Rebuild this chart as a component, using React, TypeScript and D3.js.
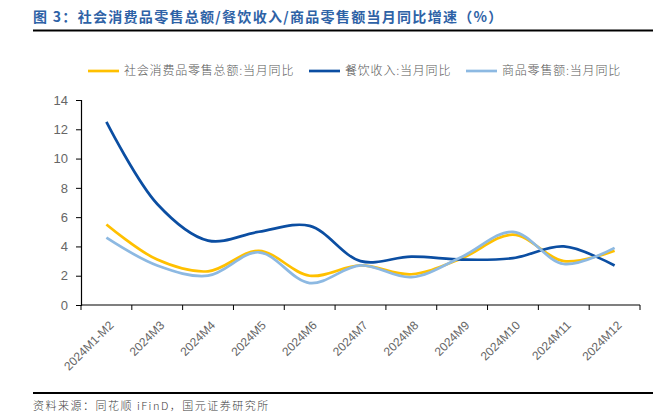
import React, { useRef, useEffect } from "react";
import * as d3 from "d3";

const categories = [
  "2024M1-M2", "2024M3", "2024M4", "2024M5", "2024M6", "2024M7",
  "2024M8", "2024M9", "2024M10", "2024M11", "2024M12",
];
const retailTotal = [5.5, 3.1, 2.3, 3.7, 2.0, 2.7, 2.1, 3.2, 4.8, 3.0, 3.7];
const catering = [12.5, 6.9, 4.4, 5.0, 5.4, 3.0, 3.3, 3.1, 3.2, 4.0, 2.7];
const goods = [4.6, 2.7, 2.0, 3.6, 1.5, 2.7, 1.9, 3.3, 5.0, 2.8, 3.9];
const yTicks = [0, 2, 4, 6, 8, 10, 12, 14];

const seriesList = [
  { name: "社会消费品零售总额:当月同比", values: retailTotal, color: "#FFC000" },
  { name: "餐饮收入:当月同比", values: catering, color: "#0B4EA2" },
  { name: "商品零售额:当月同比", values: goods, color: "#8DB9E2" },
];

const FONT = "'Noto Sans CJK SC', 'Noto Sans', sans-serif";
const NUM_FONT = "'Liberation Sans', Arial, sans-serif";

export default function App() {
  const svgRef = useRef<SVGSVGElement>(null);

  useEffect(() => {
    if (!svgRef.current) return;
    const svg = d3.select(svgRef.current);
    svg.selectAll("*").remove();

    const width = 669;
    const height = 416;
    const margin = { top: 100, right: 29, bottom: 111, left: 81 };
    const innerWidth = width - margin.left - margin.right;
    const innerHeight = height - margin.top - margin.bottom;

    svg.append("rect").attr("width", width).attr("height", height).attr("fill", "#fff");

    // title
    svg.append("text")
      .attr("x", 33)
      .attr("y", 22)
      .style("font-family", FONT)
      .style("font-size", "14px")
      .style("font-weight", "bold")
      .style("letter-spacing", "1.3px")
      .style("fill", "#2E62A6")
      .text("图 3：社会消费品零售总额/餐饮收入/商品零售额当月同比增速（%）");

    svg.append("line")
      .attr("x1", 33).attr("x2", 653)
      .attr("y1", 30.5).attr("y2", 30.5)
      .attr("stroke", "#000").attr("stroke-width", 1.8);

    const x = d3.scaleBand<string>().domain(categories).range([0, innerWidth]);
    const y = d3.scaleLinear().domain([0, 14]).range([innerHeight, 0]);

    const g = svg.append("g").attr("transform", `translate(${margin.left},${margin.top})`);

    // y axis
    const yAxis = g.append("g").call(
      d3.axisLeft(y).tickValues(yTicks).tickSize(5).tickPadding(8).tickFormat(d3.format("d"))
    );
    yAxis.select(".domain").attr("stroke", "#000").attr("stroke-width", 1.2);
    yAxis.selectAll(".tick line").attr("stroke", "#000");
    yAxis.selectAll("text")
      .style("font-family", NUM_FONT)
      .style("font-size", "13px")
      .style("fill", "#666");

    // x axis with ticks at band boundaries
    const xAxis = g.append("g").attr("transform", `translate(0,${innerHeight})`);
    xAxis.append("line")
      .attr("x1", 0).attr("x2", innerWidth)
      .attr("y1", 0).attr("y2", 0)
      .attr("stroke", "#000").attr("stroke-width", 1.2);
    const boundaries = categories.map((c) => x(c) as number).concat([innerWidth]);
    boundaries.forEach((bx) => {
      xAxis.append("line")
        .attr("x1", bx).attr("x2", bx)
        .attr("y1", 0).attr("y2", 5)
        .attr("stroke", "#000");
    });
    categories.forEach((c) => {
      const cx = (x(c) as number) + x.bandwidth() / 2;
      xAxis.append("text")
        .attr("transform", `translate(${cx + 5},${18}) rotate(-45)`)
        .attr("text-anchor", "end")
        .attr("dy", "0.35em")
        .style("font-family", NUM_FONT)
        .style("font-size", "12px")
        .style("fill", "#666")
        .text(c);
    });

    // lines
    const line = d3.line<number>()
      .x((_, i) => (x(categories[i]) as number) + x.bandwidth() / 2)
      .y((d) => y(d))
      .curve(d3.curveCatmullRom.alpha(0.5));

    seriesList.forEach((s) => {
      g.append("path")
        .datum(s.values)
        .attr("fill", "none")
        .attr("stroke", s.color)
        .attr("stroke-width", 2.7)
        .attr("d", line);
    });

    // legend
    const legendItems = [
      { x: 88, textX: 124 },
      { x: 309, textX: 345 },
      { x: 466, textX: 502 },
    ];
    seriesList.forEach((s, i) => {
      const li = legendItems[i];
      svg.append("line")
        .attr("x1", li.x).attr("x2", li.x + 31)
        .attr("y1", 71).attr("y2", 71)
        .attr("stroke", s.color).attr("stroke-width", 2.7);
      svg.append("text")
        .attr("x", li.textX)
        .attr("y", 71)
        .attr("dy", "0.35em")
        .style("font-family", FONT)
        .style("font-size", "12px")
        .style("font-weight", 300)
        .style("letter-spacing", "0.8px")
        .style("fill", "#595959")
        .text(s.name);
    });

    // bottom rule + source
    svg.append("line")
      .attr("x1", 33).attr("x2", 653)
      .attr("y1", 393).attr("y2", 393)
      .attr("stroke", "#000").attr("stroke-width", 1.8);
    svg.append("text")
      .attr("x", 33)
      .attr("y", 406)
      .attr("dy", "0.35em")
      .style("font-family", FONT)
      .style("font-size", "11px")
      .style("font-weight", 300)
      .style("letter-spacing", "1.5px")
      .style("fill", "#404040")
      .text("资料来源：同花顺 iFinD，国元证券研究所");
  }, []);

  return (
    <div style={{ position: "absolute", left: 0, top: 0 }}>
      <svg ref={svgRef} width={669} height={416} style={{ display: "block" }} />
    </div>
  );
}
